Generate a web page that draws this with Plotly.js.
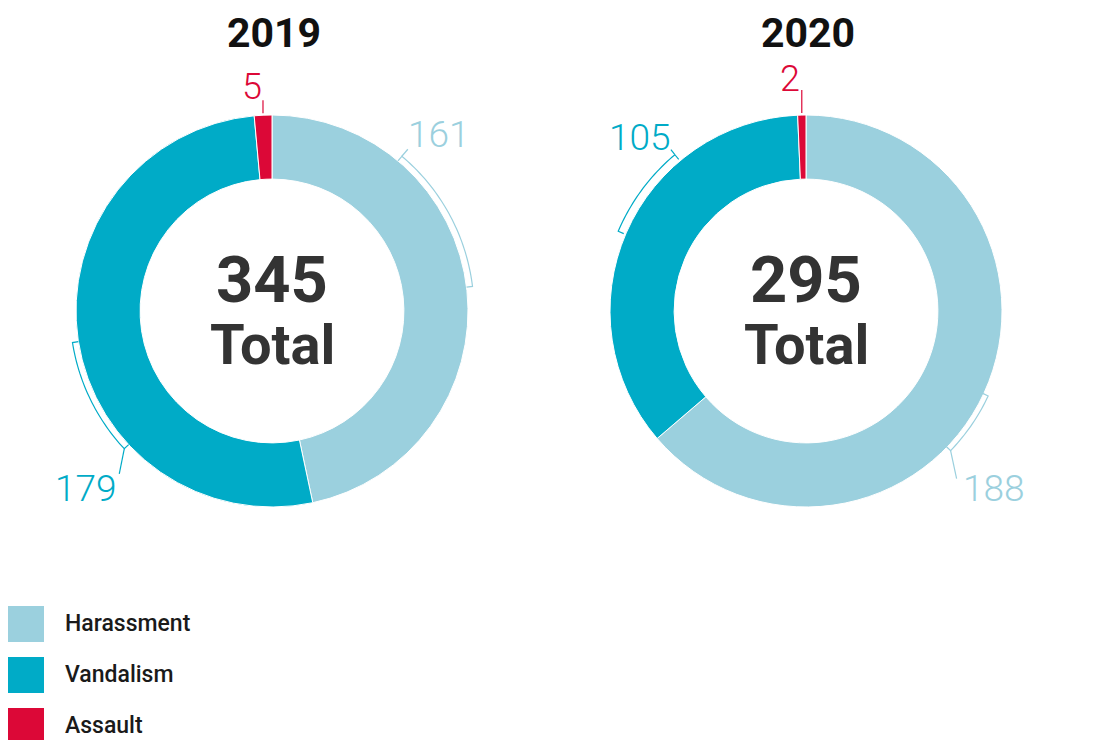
<!DOCTYPE html>
<html><head><meta charset="utf-8">
<script src="https://cdn.plot.ly/plotly-3.0.1.min.js"></script>
<style>html,body{margin:0;padding:0;background:#fff;}</style>
</head><body><div id="chart" style="width:1107px;height:740px;"></div>
<script>
const categories = ['Harassment', 'Vandalism', 'Assault'];
const years = ['2019', '2020'];
const values2019 = [161, 179, 5];
const values2020 = [188, 105, 2];
const totalLabel = 'Total';
const colors = ['#9bd0de', '#00abc7', '#dc0837'];

const W = 1107, H = 740;
const px = x => x / W;
const py = y => 1 - y / H;

// donut domains (pixels)
const boxes = [
  {x0: 76, x1: 468, y0: 115, y1: 507},
  {x0: 610, x1: 1002, y0: 115, y1: 507}
];
const series = [values2019, values2020];
const hole = 0.673;

const data = series.map((vals, i) => ({
  type: 'pie',
  labels: categories,
  values: vals,
  sort: false,
  direction: 'clockwise',
  rotation: 0,
  hole: hole,
  textinfo: 'none',
  hoverinfo: 'label+value',
  marker: {colors: colors, line: {color: '#ffffff', width: 1}},
  domain: {x: [px(boxes[i].x0), px(boxes[i].x1)], y: [py(boxes[i].y1), py(boxes[i].y0)]},
  showlegend: false
}));

function geom(i) {
  const b = boxes[i];
  return {cx: (b.x0 + b.x1) / 2, cy: (b.y0 + b.y1) / 2, R: Math.min(b.x1 - b.x0, b.y1 - b.y0) / 2};
}
function pt(g, ang, r) {
  const a = ang * Math.PI / 180;
  return [g.cx + r * Math.sin(a), g.cy - r * Math.cos(a)];
}
function toPath(pts) {
  return pts.map((p, k) => (k ? 'L' : 'M') + px(p[0]).toFixed(5) + ',' + py(p[1]).toFixed(5)).join(' ');
}

const shapes = [];
const annotations = [];

// bracket placements (angles clockwise from top, leader offsets, label positions in px)
const brackets = [
  {pie: 0, cat: 0, a1: 40, a2: 83, r: 202, leadFrom: 'a1', lead: [6, -7], label: [439, 134]},
  {pie: 0, cat: 1, a1: 227, a2: 261, r: 202, leadFrom: 'a1', lead: [-5, 25], label: [86, 488]},
  {pie: 1, cat: 0, a1: 115, a2: 134, r: 201, leadFrom: 'a2', lead: [6, 28], label: [994, 488]},
  {pie: 1, cat: 1, a1: 293, a2: 320, r: 204, leadFrom: 'a2', lead: [-4, -5], label: [640, 137]}
];
brackets.forEach(bk => {
  const g = geom(bk.pie);
  const pts = [];
  pts.push(pt(g, bk.a1, bk.r - 6));
  for (let a = bk.a1; a <= bk.a2 + 0.001; a += 1) pts.push(pt(g, a, bk.r));
  pts.push(pt(g, bk.a2, bk.r - 6));
  shapes.push({type: 'path', xref: 'paper', yref: 'paper', path: toPath(pts),
    line: {color: colors[bk.cat], width: 1.2}, fillcolor: 'rgba(0,0,0,0)'});
  const s = pt(g, bk.leadFrom === 'a1' ? bk.a1 : bk.a2, bk.r);
  const e = [s[0] + bk.lead[0], s[1] + bk.lead[1]];
  shapes.push({type: 'path', xref: 'paper', yref: 'paper', path: toPath([s, e]),
    line: {color: colors[bk.cat], width: 1.2}});
  annotations.push({xref: 'paper', yref: 'paper', x: px(bk.label[0]), y: py(bk.label[1]),
    xanchor: 'center', yanchor: 'middle', showarrow: false,
    text: String(series[bk.pie][bk.cat]),
    font: {family: 'Roboto, sans-serif', size: 37, weight: 300, color: colors[bk.cat]}});
});

// small-slice (Assault) tick lines, placed at slice middle computed from data
const tickLen = [13, 23];
const smallLabelPos = [[252, 87], [790, 79]];
series.forEach((vals, i) => {
  const g = geom(i);
  const tot = vals.reduce((a, b) => a + b, 0);
  const before = vals.slice(0, 2).reduce((a, b) => a + b, 0);
  const mid = (before + vals[2] / 2) / tot * 360;
  const s = pt(g, mid, g.R + 2);
  shapes.push({type: 'line', xref: 'paper', yref: 'paper',
    x0: px(s[0]), y0: py(s[1]), x1: px(s[0]), y1: py(s[1] - tickLen[i]),
    line: {color: colors[2], width: 1.2}});
  annotations.push({xref: 'paper', yref: 'paper', x: px(smallLabelPos[i][0]), y: py(smallLabelPos[i][1]),
    xanchor: 'center', yanchor: 'middle', showarrow: false, text: String(vals[2]),
    font: {family: 'Roboto, sans-serif', size: 36, weight: 300, color: colors[2]}});
  // year title
  annotations.push({xref: 'paper', yref: 'paper', x: px(g.cx + 2), y: py(33),
    xanchor: 'center', yanchor: 'middle', showarrow: false, text: '<b>' + years[i] + '</b>',
    font: {family: 'Roboto, sans-serif', size: 41, color: '#111111'}});
  // center totals
  annotations.push({xref: 'paper', yref: 'paper', x: px(g.cx), y: py(280),
    xanchor: 'center', yanchor: 'middle', showarrow: false, text: '<b>' + tot + '</b>',
    font: {family: 'Roboto, sans-serif', size: 65, color: '#333333'}});
  annotations.push({xref: 'paper', yref: 'paper', x: px(g.cx), y: py(345),
    xanchor: 'center', yanchor: 'middle', showarrow: false, text: '<b>' + totalLabel + '</b>',
    font: {family: 'Roboto, sans-serif', size: 56, color: '#333333'}});
});

// custom legend
categories.forEach((c, k) => {
  const yc = 624 + k * 51;
  shapes.push({type: 'rect', xref: 'paper', yref: 'paper',
    x0: px(8), x1: px(44), y0: py(yc - 18), y1: py(yc + 18),
    fillcolor: colors[k], line: {width: 0}});
  annotations.push({xref: 'paper', yref: 'paper', x: px(63), y: py(yc - 1), xanchor: 'left', yanchor: 'middle',
    showarrow: false, text: c, font: {family: 'Roboto, sans-serif', size: 23, weight: 500, color: '#1a1a1a'}});
});

const layout = {
  width: W, height: H,
  margin: {l: 0, r: 0, t: 0, b: 0},
  paper_bgcolor: '#ffffff',
  showlegend: false,
  shapes: shapes,
  annotations: annotations
};
Plotly.newPlot('chart', data, layout, {displayModeBar: false, staticPlot: false});
</script>
</body></html>
